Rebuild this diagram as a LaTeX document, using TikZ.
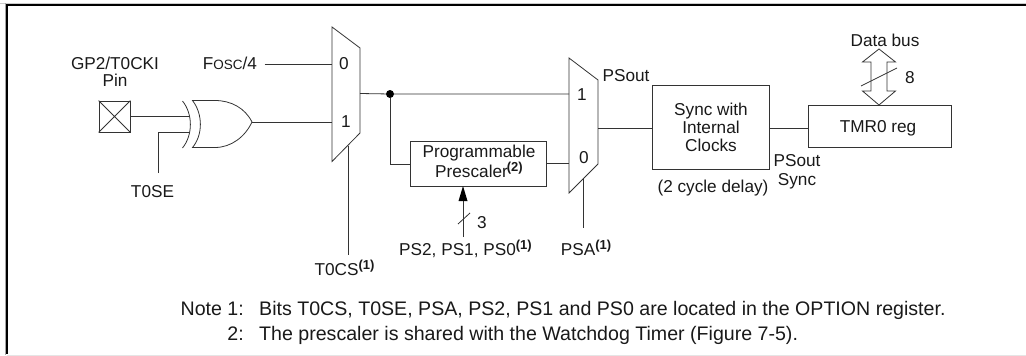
\documentclass[tikz,border=0pt]{standalone}
\usepackage{fontspec}
\setmainfont{Liberation Sans}
\newcommand{\noteref}[1]{\raisebox{5.5pt}{\fontsize{13}{13}\selectfont\bfseries(#1)}}
\begin{document}
\begin{tikzpicture}[x=1pt,y=-1pt,
  wire/.style={line width=0.8pt,draw=black!80},
  blockbox/.style={draw=black!80,line width=0.8pt,inner sep=0pt},
  lbl/.style={inner sep=0pt,anchor=base,font=\fontsize{17.2}{17.2}\selectfont,text=black!90,align=center},
  notetext/.style={lbl,font=\fontsize{19.6}{19.6}\selectfont},
  frameline/.style={line width=2pt,draw=black}]
\useasboundingbox (0,0) rectangle (1026,356);
\draw[line width=1pt,draw=black!20] (0,3) -- (1026,3);
\draw[line width=1pt,draw=black!35] (5.5,3) -- (5.5,355);
\draw[frameline] (7,354) -- (7,5) -- (1026,5);
\draw[line width=0.6pt,draw=black!10] (7,355) -- (1026,355);
% pin
\node[blockbox,minimum width=31pt,minimum height=31pt] (pin) at (114.5,116.5) {};
\draw[wire] (pin.north west) -- (pin.south east) (pin.north east) -- (pin.south west);
\node[lbl] (pinl) at (115,86) {GP2/T0CKI\\[-0.2pt]Pin};
% xor
\coordinate (xin1) at (190,116);
\coordinate (xin2) at (188.5,132.5);
\coordinate (xout) at (252,122);
\draw[wire] (182.5,101) .. controls (193,114) and (193,135) .. (182.5,148);
\draw[wire] (192.5,100.5) .. controls (203,114) and (203,135) .. (192.5,147.5) -- (215,147.5) .. controls (231,147.5) and (245,137) .. (xout) .. controls (245,108) and (231,100.5) .. (215,100.5) -- cycle;
\draw[wire] (pin.east |- xin1) -- (xin1);
\coordinate (t0sebot) at (158,173);
\draw[wire] (t0sebot) -- (158,132.5) -- (xin2);
\node[lbl] (t0se) at (152.5,197) {T0SE};
% mux 1
\draw[wire] (332,27) -- (360,48) -- (360,133) -- (332,161.5) -- cycle;
\coordinate (m1in0) at (332,64.5);
\coordinate (m1in1) at (332,122);
\coordinate (m1out) at (360,93.5);
\coordinate (m1sel) at (348,146);
\node[lbl] (m1z) at (344,69) {0};
\node[lbl] (m1o) at (346,127) {1};
\node[lbl] (fosc) at (230,69) {F{\fontsize{13.5}{13.5}\selectfont OSC}/4};
\coordinate (foscr) at (264.5,64.5);
\draw[wire] (foscr) -- (m1in0);
\draw[wire] (xout) -- (m1in1);
\coordinate (t0csb) at (348,255);
\draw[wire] (m1sel) -- (t0csb);
\node[lbl] (t0cs) at (344.5,275) {T0CS\noteref{1}};
% mux 2
\draw[wire] (569,58) -- (598,80) -- (598,164) -- (569,193) -- cycle;
\coordinate (m2in1) at (569,94);
\coordinate (m2in0) at (569,163);
\coordinate (m2out) at (598,128);
\coordinate (m2sel) at (583,178);
\node[lbl] (m2o) at (582,100) {1};
\node[lbl] (m2z) at (584,163) {0};
\node[lbl] (psout) at (626,81) {PSout};
\node[circle,fill=black,inner sep=0pt,minimum size=8pt] (dot) at (390,94) {};
\draw[wire] (m1out) -- (dot) -- (m2in1);
% prescaler
\node[blockbox,minimum width=136pt,minimum height=45pt] (pre) at (478,163.5) {};
\node[lbl] (prel) at (479,177) {Programmable\\[-0.2pt]Prescaler\hspace*{-1pt}\noteref{2}};
\draw[wire] (dot) |- (pre.west |- 0,164);
\draw[wire] (pre.east |- m2in0) -- (m2in0);
\coordinate (psb) at (463,237);
\coordinate (prebot) at (463,186);
\draw[wire] (psb) -- (463,200);
\fill[black] (prebot) -- (467.5,201) -- (458.5,201) -- cycle;
\coordinate (sl1a) at (458,224);
\coordinate (sl1b) at (470,213);
\draw[wire] (sl1a) -- (sl1b);
\node[lbl] (three) at (482,228) {3};
\node[lbl] (psl) at (465.5,255) {PS2, PS1, PS0\noteref{1}};
\coordinate (psab) at (583,228);
\draw[wire] (m2sel) -- (psab);
\node[lbl] (psa) at (586,255) {PSA\noteref{1}};
% sync
\node[blockbox,minimum width=117pt,minimum height=84pt] (sync) at (710.5,127) {};
\node[lbl] (syncl) at (711,151) {Sync with\\[0.8pt]Internal\\[0.8pt]Clocks};
\node[lbl] (delay) at (713,192) {(2 cycle delay)};
\draw[wire] (m2out) -- (sync.west |- m2out);
% tmr
\node[blockbox,minimum width=143pt,minimum height=42pt] (tmr) at (879.5,126) {};
\node[lbl] (tmrl) at (878,132) {TMR0 reg};
\draw[wire] (sync.east |- 0,128) -- (tmr.west |- 0,128);
\node[lbl] (psouts) at (797,185) {PSout\\[1.8pt]Sync};
% data bus
\coordinate (dbtop) at (879,49);
\draw[wire] (dbtop) -- (895.5,62) -- (887,62) -- (887,91) -- (895.5,91) -- (879,105) -- (862.5,91) -- (871,91) -- (871,62) -- (862.5,62) -- cycle;
\coordinate (sl2a) at (861,86);
\coordinate (sl2b) at (897,68);
\draw[wire] (sl2a) -- (sl2b);
\node[lbl] (dbus) at (885,46) {Data bus};
\node[lbl] (eight) at (910,83) {8};
% notes
\node[notetext,anchor=base east] (n1a) at (244,315) {Note 1:};
\node[notetext,anchor=base west] (n1b) at (259,315) {Bits T0CS, T0SE, PSA, PS2, PS1 and PS0 are located in the OPTION register.};
\node[notetext,anchor=base east] (n2a) at (244,340) {2:};
\node[notetext,anchor=base west] (n2b) at (259,340) {The prescaler is shared with the Watchdog Timer (Figure 7-5).};
\end{tikzpicture}
\end{document}
